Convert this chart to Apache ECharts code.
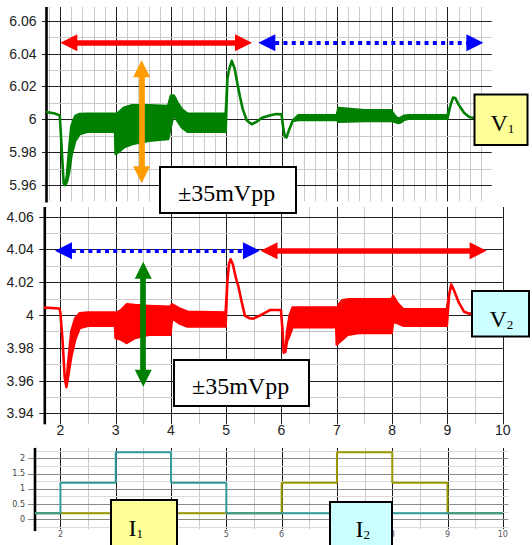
<!DOCTYPE html>
<html><head><meta charset="utf-8">
<script src="https://cdn.jsdelivr.net/npm/echarts@6/dist/echarts.min.js"></script>
<style>html,body{margin:0;padding:0;background:#fff}#c{width:532px;height:545px}</style>
</head><body><div id="c"></div>
<script>
// ---------- tick labels ----------
const xTickLabels  = [2, 3, 4, 5, 6, 7, 8, 9, 10];
const v1TickLabels = [5.96, 5.98, 6.00, 6.02, 6.04, 6.06];
const v2TickLabels = [3.94, 3.96, 3.98, 4.00, 4.02, 4.04, 4.06];
const iTickLabels  = [0, 0.5, 1, 1.5, 2];

// ---------- V1 (top, green): time, lower envelope, upper envelope ----------
const v1T  = [1.75,1.90,1.99,2.02,2.06,2.09,2.12,2.16,2.20,2.27,2.35,2.50,2.99,3.00,3.05,3.15,3.30,3.60,3.95,4.00,4.05,4.12,4.20,4.30,4.99,5.02,5.05,5.10,5.15,5.20,5.25,5.30,5.37,5.46,5.55,5.65,5.80,5.90,6.00,6.03,6.06,6.09,6.13,6.20,6.30,7.00,7.03,7.50,7.98,8.05,8.10,8.15,8.22,8.30,9.00,9.05,9.10,9.14,9.20,9.30,9.40,9.50,9.80];
const v1Lo = [6.0044,6.0035,6.0024,5.985,5.961,5.960,5.962,5.968,5.978,5.987,5.991,5.9925,5.9925,5.979,5.980,5.983,5.985,5.987,5.988,5.996,6.003,5.999,5.995,5.9925,5.9925,6.024,6.030,6.0355,6.031,6.022,6.0135,6.006,5.9994,5.997,5.9985,6.001,6.0025,6.0032,6.003,5.995,5.9895,5.989,5.993,5.999,5.9996,5.9996,5.9985,5.999,5.999,5.9985,5.9978,5.998,5.9998,6.0003,6.0003,6.008,6.0132,6.013,6.009,6.004,6.0012,6.0008,6.0008];
const v1Hi = [6.0044,6.0035,6.0024,5.985,5.961,5.960,5.966,5.982,5.996,6.002,6.0032,6.0034,6.0034,6.003,6.004,6.007,6.0085,6.0085,6.008,6.0145,6.0145,6.010,6.006,6.0034,6.0034,6.024,6.030,6.0355,6.031,6.022,6.0135,6.006,5.9994,5.997,5.9985,6.001,6.0025,6.0032,6.003,5.995,5.9895,5.989,5.993,5.999,6.0024,6.0024,6.0068,6.0055,6.0055,6.002,6.0005,6.0008,6.0022,6.0025,6.0025,6.008,6.0132,6.013,6.009,6.004,6.0012,6.0008,6.0008];

// ---------- V2 (middle, red) ----------
const v2T  = [1.72,1.98,2.00,2.04,2.08,2.11,2.14,2.20,2.27,2.35,2.50,2.99,3.00,3.10,3.20,3.35,3.60,3.99,4.02,4.15,4.30,4.99,5.02,5.05,5.08,5.12,5.18,5.22,5.28,5.34,5.42,5.49,5.60,5.79,5.99,6.02,6.04,6.07,6.10,6.15,6.20,6.99,7.00,7.03,7.10,7.20,7.40,7.99,8.02,8.10,8.20,8.99,9.03,9.07,9.12,9.20,9.30,9.40,9.90];
const v2Lo = [4.0045,4.004,4.002,3.985,3.962,3.956,3.962,3.975,3.985,3.992,3.9935,3.9935,3.986,3.985,3.983,3.986,3.988,3.988,3.998,3.995,3.993,3.993,4.020,4.031,4.034,4.031,4.022,4.0176,4.008,3.9994,3.998,3.9978,3.9995,4.003,4.003,3.990,3.977,3.9775,3.984,3.988,3.9925,3.9925,3.982,3.983,3.985,3.988,3.989,3.989,3.996,3.995,3.9935,3.9935,4.012,4.0186,4.015,4.008,4.002,4.0008,4.0008];
const v2Hi = [4.0045,4.004,4.002,3.985,3.962,3.956,3.970,3.990,3.998,4.001,4.0015,4.0015,4.001,4.003,4.0065,4.006,4.0055,4.005,4.0065,4.004,4.002,4.0015,4.020,4.031,4.034,4.031,4.022,4.0176,4.008,3.9994,3.998,3.9978,3.9995,4.003,4.003,3.990,3.977,3.9775,3.990,4.000,4.0045,4.0045,4.000,4.006,4.009,4.0095,4.0095,4.0095,4.0115,4.007,4.0035,4.0035,4.012,4.0186,4.015,4.008,4.002,4.0008,4.0008];

// ---------- currents (bottom) : step change points ----------
const i1T = [1.54, 2, 3, 4, 5, 10];
const i1V = [0.2, 1.2, 2.2, 1.2, 0.2, 0.2];
const i2T = [1.54, 6, 7, 8, 9, 10];
const i2V = [0.2, 1.2, 2.2, 1.2, 0.2, 0.2];

// ---------- annotation arrows (data coordinates) ----------
const topArrowY = 6.0465;
const midArrowY = 4.0392;

const DARK = '#1f1f1f', LIGHT = '#cacaca', MID = '#8a8a8a', LIGHT2 = '#dadada';

function rng(a, b, step) { const out = []; const n = Math.round((b - a) / step); for (let k = 0; k <= n; k++) out.push(+(a + k * step).toFixed(4)); return out; }

function gridSeries(idx, xMin, yMin, vert, horiz, ext) {
  return {
    type: 'custom', xAxisIndex: idx, yAxisIndex: idx, silent: true, z: 1, clip: false,
    data: [[xMin, yMin]], encode: { x: 0, y: 1 },
    renderItem(params, api) {
      const cs = params.coordSys; const ch = [];
      vert.forEach(l => {
        const x = Math.round(api.coord([l.v, yMin])[0]) + 0.5;
        ch.push({ type: 'line', shape: { x1: x, y1: cs.y - ext.top, x2: x, y2: cs.y + cs.height + ext.bottom }, style: { stroke: l.c, lineWidth: 1 } });
      });
      horiz.forEach(l => {
        const y = Math.round(api.coord([xMin, l.v])[1]) + 0.5;
        ch.push({ type: 'line', shape: { x1: cs.x - (l.t || 0), y1: y, x2: cs.x + cs.width, y2: y }, style: { stroke: l.c, lineWidth: 1 } });
      });
      ch.push({ type: 'line', shape: { x1: cs.x, y1: cs.y - ext.top, x2: cs.x, y2: cs.y + cs.height + ext.axis }, style: { stroke: '#000', lineWidth: 2.6 } });
      return { type: 'group', children: ch };
    }
  };
}

function bandSeries(idx, T, LO, HI, color) {
  return {
    type: 'custom', xAxisIndex: idx, yAxisIndex: idx, silent: true, z: 3, clip: true,
    data: T.map((t, i) => [t, LO[i], HI[i]]), encode: { x: 0, y: [1, 2] },
    renderItem(params, api) {
      if (params.dataIndex !== 0) return null;
      const pts = [];
      for (let i = 0; i < T.length; i++) pts.push(api.coord([T[i], HI[i]]));
      for (let i = T.length - 1; i >= 0; i--) pts.push(api.coord([T[i], LO[i]]));
      return { type: 'polygon', shape: { points: pts }, style: { fill: color, stroke: color, lineWidth: 2.6, lineJoin: 'round' } };
    }
  };
}

function arrow(p1, p2, color, width, dashed) {
  const ls = { color: color, width: width, type: dashed ? [4, 4.3] : 'solid', cap: 'butt' };
  return [
    { coord: p1, symbol: 'triangle', symbolSize: [17, 17], lineStyle: ls, itemStyle: { color: color } },
    { coord: p2, symbol: 'triangle', symbolSize: [17, 17], lineStyle: ls, itemStyle: { color: color } }
  ];
}

function arrowSeries(idx, items) {
  return {
    type: 'line', xAxisIndex: idx, yAxisIndex: idx, data: [], z: 5,
    markLine: { silent: true, animation: false, label: { show: false }, emphasis: { disabled: true }, z: 5, data: items }
  };
}

const vTop = []; rng(1.8, 9.6, 0.2).forEach(v => { vTop.push({ v, c: Math.abs(v - Math.round(v)) < 1e-6 ? DARK : LIGHT }); });
const hTop = []; rng(5.96, 6.06, 0.01).forEach((v, k) => { hTop.push({ v, c: k % 2 === 0 ? DARK : LIGHT, t: k % 2 === 0 ? 4.5 : 0 }); });
const vMid = []; rng(2, 10, 0.5).forEach((v, k) => { vMid.push({ v, c: k % 2 === 0 ? DARK : LIGHT }); });
const hMid = []; rng(3.94, 4.06, 0.01).forEach((v, k) => { hMid.push({ v, c: k % 2 === 0 ? DARK : LIGHT, t: k % 2 === 0 ? 5.5 : 0 }); });
const vBot = []; rng(2, 10, 0.5).forEach((v, k) => { vBot.push({ v, c: k % 2 === 0 ? DARK : LIGHT }); });
const hBot = []; rng(-0.25, 2.25, 0.25).forEach((v, k) => { hBot.push({ v, c: k % 2 === 1 ? MID : LIGHT2, t: k % 2 === 1 ? 7 : 0 }); });

const labelFont = { fontFamily: 'Liberation Sans', fontSize: 14, color: '#222' };
const hideAxis = { axisLine: { show: false }, axisTick: { show: false }, splitLine: { show: false } };

function box(x, y, w, h, fill, textEl) {
  return { type: 'group', x: x, y: y, z: 100, children: [
    { type: 'rect', z: 100, shape: { x: 0, y: 0, width: w, height: h }, style: { fill: fill, stroke: '#000', lineWidth: 2 } },
    Object.assign({ type: 'text', z: 101 }, textEl)
  ] };
}
function subText(x, y, main, sub) {
  return { x: x, y: y, style: { text: '{v|' + main + '}{s|' + sub + '}', textVerticalAlign: 'middle', verticalAlign: 'middle', fill: '#000',
    rich: { v: { fontFamily: 'Liberation Serif', fontSize: 24, lineHeight: 26, verticalAlign: 'bottom' },
            s: { fontFamily: 'Liberation Serif', fontSize: 13, lineHeight: 16, verticalAlign: 'bottom' } } } };
}
function plainText(x, y, t) {
  return { x: x, y: y, style: { text: t, font: '24px "Liberation Serif"', fill: '#000', textVerticalAlign: 'middle', verticalAlign: 'middle' } };
}

const chart = echarts.init(document.getElementById('c'), null, { renderer: 'svg' });
chart.setOption({
  animation: false,
  backgroundColor: '#fff',
  grid: [
    { left: 46.5, top: 7, width: 445.2, height: 194.5 },
    { left: 44.8, top: 207, width: 457.9, height: 206.3 },
    { left: 35, top: 447.9, width: 473.4, height: 81.2 }
  ],
  xAxis: [
    Object.assign({ gridIndex: 0, type: 'value', min: 1.75, max: 9.8, axisLabel: { show: false } }, hideAxis),
    Object.assign({ gridIndex: 1, type: 'value', min: 1.72, max: 10, axisLabel: Object.assign({ customValues: xTickLabels, margin: 10 }, labelFont) }, hideAxis),
    Object.assign({ gridIndex: 2, type: 'value', min: 1.54, max: 10.1, axisLabel: { customValues: xTickLabels, margin: 1, fontFamily: 'DejaVu Sans', fontSize: 8, color: '#555' } }, hideAxis)
  ],
  yAxis: [
    Object.assign({ gridIndex: 0, type: 'value', min: 5.95, max: 6.0683, axisLabel: Object.assign({ customValues: v1TickLabels, margin: 10 }, labelFont) }, hideAxis),
    Object.assign({ gridIndex: 1, type: 'value', min: 3.94, max: 4.0659, axisLabel: Object.assign({ customValues: v2TickLabels, margin: 11 }, labelFont) }, hideAxis),
    Object.assign({ gridIndex: 2, type: 'value', min: -0.32, max: 2.34, axisLabel: { customValues: iTickLabels, margin: 10, fontFamily: 'DejaVu Sans', fontSize: 8, color: '#444' } }, hideAxis)
  ],
  series: [
    gridSeries(0, 1.75, 5.95, vTop, hTop, { top: 0, bottom: 0, axis: 1 }),
    gridSeries(1, 1.72, 3.94, vMid, hMid, { top: 0, bottom: 11, axis: 11 }),
    gridSeries(2, 1.54, -0.32, vBot, hBot, { top: 0, bottom: 0, axis: 2 }),
    bandSeries(0, v1T, v1Lo, v1Hi, '#008000'),
    bandSeries(1, v2T, v2Lo, v2Hi, '#ff0000'),
    { type: 'line', xAxisIndex: 2, yAxisIndex: 2, step: 'end', symbol: 'none', z: 3, silent: true,
      lineStyle: { color: '#999900', width: 2 }, data: i2T.map((t, i) => [t, i2V[i]]) },
    { type: 'line', xAxisIndex: 2, yAxisIndex: 2, step: 'end', symbol: 'none', z: 4, silent: true,
      lineStyle: { color: '#339999', width: 2 }, data: i1T.map((t, i) => [t, i1V[i]]) },
    arrowSeries(0, [
      arrow([2.154, topArrowY], [5.312, topArrowY], '#ff0000', 5.7, false),
      arrow([5.734, topArrowY], [9.496, topArrowY], '#0000ff', 4, true),
      arrow([3.47, 6.0308], [3.47, 5.9662], '#ff9c00', 5.7, false)
    ]),
    arrowSeries(1, [
      arrow([2.058, midArrowY], [5.456, midArrowY], '#0000ff', 4, true),
      arrow([5.774, midArrowY], [9.556, midArrowY], '#ff0000', 5.7, false),
      arrow([3.50, 4.0273], [3.50, 3.9614], '#008000', 5.7, false)
    ])
  ],
  graphic: { elements: [
    box(160, 167, 136, 46, '#fff', plainText(18, 26, '±35mVpp')),
    box(174, 360, 135, 46, '#fff', plainText(18, 26, '±35mVpp')),
    box(474.5, 94.5, 53, 50.5, '#ffff99', subText(16, 27, 'V', '1')),
    box(472, 291, 57, 45.5, '#ccffff', subText(17.5, 27, 'V', '2')),
    box(111, 500, 66, 50, '#ffff99', subText(17.5, 27, 'I', '1')),
    box(330, 502, 62, 48, '#ccffff', subText(25.5, 26, 'I', '2'))
  ] }
});
</script>
</body></html>
